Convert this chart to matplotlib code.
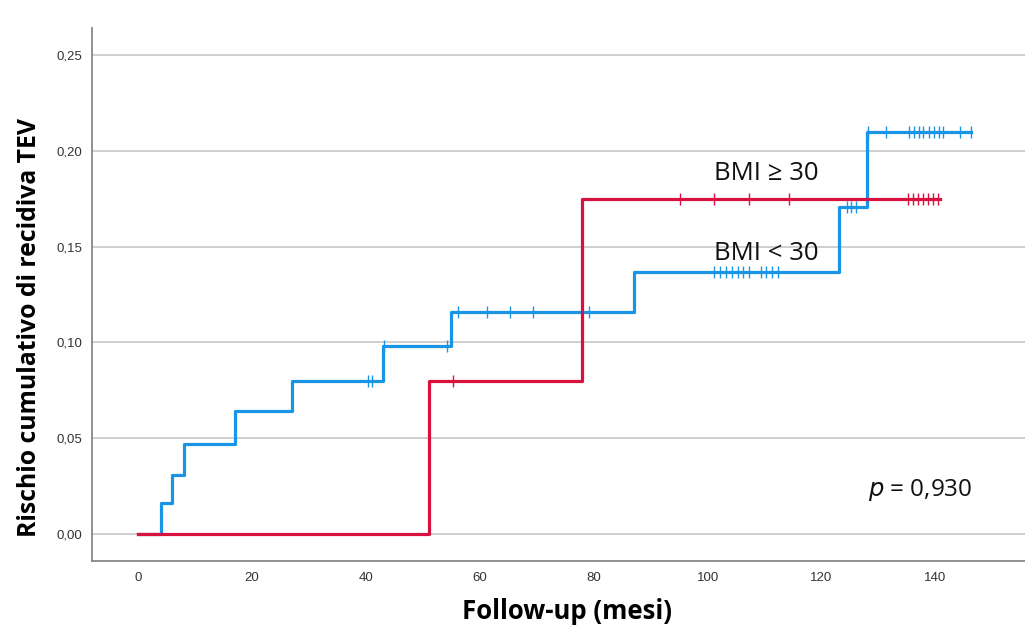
"""
Incidenza cumulativa di recidiva TEV per BMI (Kaplan-Meier style)
"""
import matplotlib.pyplot as plt
import numpy as np

# BMI < 30 (blue)
low_times = [0, 4, 6, 8, 17, 27, 43, 55, 87, 123, 128, 146.2]
low_risk = [0, 0.016, 0.031, 0.047, 0.064, 0.080, 0.098, 0.116, 0.137, 0.171, 0.210, 0.210]
low_censor = [40.3, 41.0, 43.2, 54.3, 56.2, 61.2, 65.3, 69.3, 79.1,
              101.2, 102.2, 103.2, 104.3, 105.3, 106.3, 107.3,
              109.3, 110.3, 111.3, 112.3, 124.4, 125.2, 126.0,
              128.2, 131.3, 135.3, 136.2, 137.1, 137.9, 138.8, 139.7,
              140.6, 141.3, 144.4, 146.2]

# BMI >= 30 (red)
high_times = [0, 51, 78, 140.8]
high_risk = [0, 0.080, 0.175, 0.175]
high_censor = [55.2, 95.2, 101.2, 107.2, 114.3,
               135.2, 136.0, 136.9, 137.8, 138.7, 139.6, 140.4]

xticks = [0, 20, 40, 60, 80, 100, 120, 140]
yticks = [0.00, 0.05, 0.10, 0.15, 0.20, 0.25]

blue = "#1a95e6"
red = "#d8113f"

fig = plt.figure(figsize=(10.25, 6.28), dpi=100)
ax = fig.add_axes([0.0898, 0.1067, 0.915, 0.848])

ax.grid(axis="y", color="#cccccc", linewidth=1.3)
ax.set_axisbelow(True)


def step_value(times, risk, t):
    idx = np.searchsorted(times, t, side="right") - 1
    return np.array(risk)[idx]


ax.step(low_times, low_risk, where="post", color=blue, linewidth=2.3, zorder=3)
ax.plot(low_censor, step_value(low_times, low_risk, low_censor), linestyle="none",
        marker="|", markersize=8, markeredgewidth=1.0, color=blue, zorder=3)

ax.step(high_times, high_risk, where="post", color=red, linewidth=2.3, zorder=4)
ax.plot(high_censor, step_value(high_times, high_risk, high_censor), linestyle="none",
        marker="|", markersize=8, markeredgewidth=1.0, color=red, zorder=4)

ax.text(101.2, 0.185, "BMI \u2265 30", fontsize=18.5, family="Open Sans", color="#111111")
ax.text(101.2, 0.143, "BMI < 30", fontsize=18.5, family="Open Sans", color="#111111")
ax.text(128.2, 0.020, "$p$ = 0,930", fontsize=17.5, family="Open Sans", color="#111111")

ax.set_xlim(-8.1, 156.6)
ax.set_ylim(-0.0141, 0.264)
ax.set_xticks(xticks)
ax.set_xticklabels([str(v) for v in xticks])
ax.set_yticks(yticks)
ax.set_yticklabels([f"{v:.2f}".replace(".", ",") for v in yticks])
ax.tick_params(length=0, labelsize=9.5, labelcolor="#333333", pad=8)
ax.tick_params(axis="y", pad=7)
for lab in ax.get_xticklabels() + ax.get_yticklabels():
    lab.set_family("Liberation Sans")

for side in ["top", "right"]:
    ax.spines[side].set_visible(False)
for side in ["left", "bottom"]:
    ax.spines[side].set_color("#888888")
    ax.spines[side].set_linewidth(1.3)

ax.set_xlabel("Follow-up (mesi)", fontsize=18.5, fontweight="bold", family="Open Sans")
ax.set_ylabel("Rischio cumulativo di recidiva TEV", fontsize=17.8, fontweight="bold",
              family="Open Sans")
# label centres taken from the reference layout
ax.xaxis.set_label_coords(0.506, -0.095)
ax.yaxis.set_label_coords(-0.067, 0.438)
ax.xaxis.label.set_va("center")
ax.yaxis.label.set_va("center")

plt.savefig("out.png", dpi=100)
